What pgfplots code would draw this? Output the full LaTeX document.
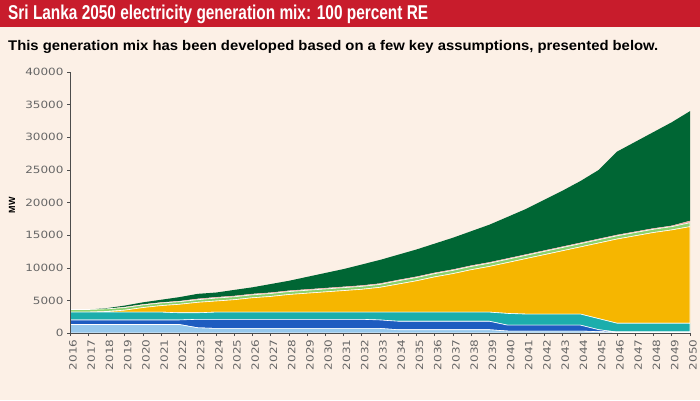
\documentclass[border=0pt]{standalone}
\usepackage{fontspec}
\setmainfont{Liberation Sans}
\newfontfamily\titlefont[FakeStretch=0.77]{Liberation Sans}
\newfontfamily\subfont[FakeStretch=1.06]{Liberation Sans}
\newfontfamily\tickfont[FakeStretch=1.2]{DejaVu Sans}
\usepackage{pgfplots}
\pgfplotsset{compat=1.18}

\definecolor{bgpink}{RGB}{252,240,230}
\definecolor{titlered}{RGB}{200,28,44}
\definecolor{lblue}{RGB}{150,200,236}
\definecolor{dblue}{RGB}{30,92,192}
\definecolor{teal}{RGB}{28,174,172}
\definecolor{solar}{RGB}{246,182,0}
\definecolor{lgreen}{RGB}{140,210,110}
\definecolor{pinkish}{RGB}{240,172,168}
\definecolor{dgreen}{RGB}{0,102,52}

% MW per source, stacked bottom to top
\pgfplotstableread{
year lb   db   teal yel   lg  pk  dg
2016 1300 700  1200 0     400 0   0
2017 1300 700  1200 0     400 0   0
2018 1300 700  1200 100   400 0   100
2019 1300 700  1200 300   400 100 200
2020 1300 700  1200 700   400 100 300
2021 1300 700  1200 1000  400 100 400
2022 1300 700  1100 1300  400 100 600
2023 800  1300 1000 1600  400 150 750
2024 700  1400 1100 1700  450 150 700
2025 700  1400 1100 1900  450 150 900
2026 700  1400 1100 2200  450 150 1000
2027 700  1400 1100 2400  450 150 1300
2028 700  1400 1100 2700  450 150 1500
2029 700  1400 1100 2900  450 150 1900
2030 700  1400 1100 3100  450 150 2300
2031 700  1400 1100 3300  450 150 2700
2032 700  1400 1100 3500  450 150 3200
2033 700  1300 1200 3800  450 150 3600
2034 500  1300 1400 4300  500 150 3850
2035 500  1300 1400 4800  500 150 4150
2036 500  1300 1400 5400  500 150 4450
2037 500  1300 1400 5900  500 150 4850
2038 500  1300 1400 6500  500 150 5250
2039 500  1300 1400 7000  500 150 5750
2040 300  900  1800 7800  500 150 6350
2041 300  900  1700 8500  500 150 6950
2042 300  900  1700 9100  500 150 7750
2043 300  900  1700 9700  500 150 8550
2044 300  900  1700 10300 500 150 9450
2045 200  300  1700 11600 500 150 10550
2046 150  0    1350 12900 500 150 12750
2047 150  0    1350 13400 500 150 13750
2048 150  0    1350 13900 500 150 14750
2049 150  0    1350 14300 500 150 15850
2050 150  0    1350 14800 600 300 16800
}\mixdata

\begin{document}
\begin{tikzpicture}[x=1pt,y=1pt]
\useasboundingbox (0,0) rectangle (700,-400);
\fill[bgpink] (0,0) rectangle (700,-400);
\fill[titlered] (0,0) rectangle (700,-27);
\node[anchor=west, text=white, inner sep=0pt,
      font=\titlefont\bfseries\fontsize{20}{20}\selectfont] at (8,-14)
  {Sri Lanka 2050 electricity generation mix: 100 percent RE};
\node[anchor=west, inner sep=0pt,
      font=\subfont\bfseries\fontsize{14}{14}\selectfont] at (8,-47)
  {This generation mix has been developed based on a few key assumptions, presented below.};
\node[rotate=90, font=\bfseries\fontsize{9}{9}\selectfont] at (12,-205) {MW};

\begin{axis}[
    at={(70pt,-333pt)}, anchor=south west,
    scale only axis,
    width=620pt, height=261pt,
    xmin=2016, xmax=2050,
    ymin=0, ymax=40000,
    axis lines*=left,
    axis on top,
    axis line style={draw=black!70, line width=0.6pt},
    tick align=outside,
    major tick length=3pt,
    tick style={draw=black!70, line width=0.5pt},
    xtick={2016,...,2050},
    ytick={0,5000,...,40000},
    scaled y ticks=false,
    /pgf/number format/assume math mode=true,
    /pgf/number format/1000 sep={},
    ticklabel style={font=\tickfont\fontsize{10}{10}\selectfont, text=black!60},
    xticklabel style={rotate=90, anchor=east, yshift=-3pt},
    stack plots=y,
]
\addplot[fill=lblue, draw=white, line width=0.6pt] table[x=year, y=lb] {\mixdata} \closedcycle;
\addplot[fill=dblue, draw=white, line width=0.6pt] table[x=year, y=db] {\mixdata} \closedcycle;
\addplot[fill=teal, draw=white, line width=0.6pt] table[x=year, y=teal] {\mixdata} \closedcycle;
\addplot[fill=solar, draw=white, line width=0.6pt] table[x=year, y=yel] {\mixdata} \closedcycle;
\addplot[fill=lgreen, draw=white, line width=0.6pt] table[x=year, y=lg] {\mixdata} \closedcycle;
\addplot[fill=pinkish, draw=none] table[x=year, y=pk] {\mixdata} \closedcycle;
\addplot[fill=dgreen, draw=none] table[x=year, y=dg] {\mixdata} \closedcycle;
\end{axis}
\end{tikzpicture}
\end{document}
